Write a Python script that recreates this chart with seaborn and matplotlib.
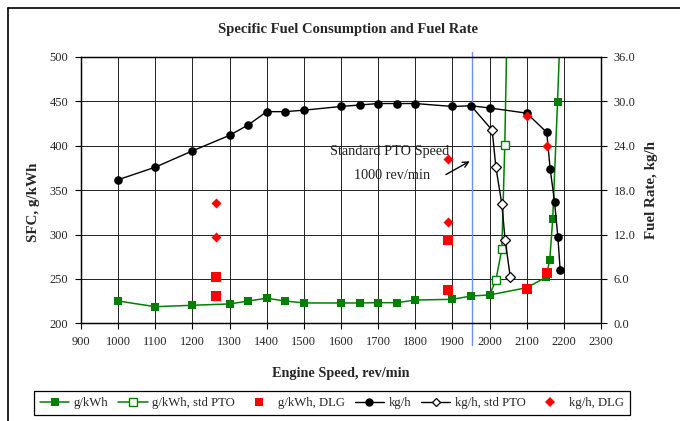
import numpy as np
import pandas as pd
import matplotlib
matplotlib.use("Agg")
import matplotlib.pyplot as plt
from matplotlib.lines import Line2D
import seaborn as sns

# ---------------- data ----------------
speed_main = [1000, 1100, 1200, 1300, 1350, 1400, 1450, 1500, 1600, 1650, 1700, 1750, 1800,
              1900, 1950, 2000, 2100, 2152, 2162, 2170, 2183, 2190]
sfc_main = [225.1, 218.7, 220.3, 221.8, 225.1, 228.2, 225.1, 222.9, 222.9, 222.9, 223.2, 223.2,
            226.2, 227.0, 230.7, 231.9, 240.1, 251.8, 271.3, 317.1, 449.2, 530.0]

speed_sfc_pto = [2000, 2017, 2033, 2041, 2056]
sfc_pto = [231.9, 248.8, 283.3, 401.1, 731.0]

speed_rate_main = [1000, 1100, 1200, 1300, 1350, 1400, 1450, 1500, 1600, 1650, 1700, 1750, 1800,
                   1900, 1950, 2000, 2100, 2154, 2163, 2175, 2184, 2190]
rate_main = [19.4, 21.1, 23.3, 25.4, 26.8, 28.6, 28.6, 28.8, 29.3, 29.5, 29.7, 29.7, 29.7,
             29.3, 29.4, 29.1, 28.4, 25.8, 20.9, 16.4, 11.6, 7.2]

speed_rate_pto = [1950, 2007, 2017, 2033, 2042, 2056]
rate_pto = [29.4, 26.1, 21.1, 16.1, 11.2, 6.2]

speed_dlg = [1263, 1263, 1888, 1888, 2100, 2155]
sfc_dlg = [251.8, 231.1, 293.8, 237.5, 238.3, 256.3]
rate_dlg = [16.2, 11.7, 22.2, 13.7, 28.0, 23.9]

std_pto_speed = 1953

x_ticks = list(range(900, 2301, 100))
sfc_ticks = list(range(200, 501, 50))
rate_ticks = [0, 6, 12, 18, 24, 30, 36]

title = "Specific Fuel Consumption and Fuel Rate"
xlabel = "Engine Speed, rev/min"
ylabel_left = "SFC, g/kWh"
ylabel_right = "Fuel Rate, kg/h"
legend_labels = ["g/kWh", "g/kWh, std PTO", "g/kWh, DLG", "kg/h", "kg/h, std PTO", "kg/h, DLG"]

# ---------------- style ----------------
sns.set_theme(style="white")
plt.rcParams['font.family'] = ['Liberation Serif', 'DejaVu Serif']

GREEN = '#008000'
RED = '#ff0000'
BLUE = '#6f8fe8'

fig = plt.figure(figsize=(6.8, 4.21), dpi=100)
ax = fig.add_axes([81/680, 1-323.3/421, (601-81)/680, (323.3-56.9)/421])
ax2 = ax.twinx()

ax.set_xlim(900, 2300)
ax.set_ylim(200, 500)
ax.set_xticks(x_ticks)
ax.set_yticks(sfc_ticks)
ax.grid(True, color='#222222', lw=0.7)
ax.set_axisbelow(True)
ax2.set_ylim(0, 36)
ax2.set_yticks(rate_ticks)
ax2.set_yticklabels([f"{v:.1f}" for v in rate_ticks])
ax2.grid(False)

for a in (ax, ax2):
    for s in a.spines.values():
        s.set_color('black')
        s.set_linewidth(0.9)
ax.tick_params(axis='both', which='major', direction='out', length=4, width=0.8,
               color='black', labelsize=8.9, pad=5, bottom=True, left=True)
ax2.tick_params(axis='y', direction='out', length=4, width=0.8, color='black',
                labelsize=8.9, pad=5, right=True)

# SFC series (std PTO branch first so shared points show the filled marker)
df_pto = pd.DataFrame({'speed': speed_sfc_pto, 'sfc': sfc_pto})
sns.lineplot(data=df_pto, x='speed', y='sfc', ax=ax, color=GREEN, lw=1.1, marker='s',
             markersize=6.2, markerfacecolor='white', markeredgecolor=GREEN, markeredgewidth=1.0,
             markevery=list(range(1, len(speed_sfc_pto))),
             estimator=None, sort=False, legend=False)
df_main = pd.DataFrame({'speed': speed_main, 'sfc': sfc_main})
sns.lineplot(data=df_main, x='speed', y='sfc', ax=ax, color=GREEN, lw=1.1, marker='s',
             markersize=6.2, markeredgewidth=0, estimator=None, sort=False, legend=False)
sns.scatterplot(x=speed_dlg, y=sfc_dlg, ax=ax, color=RED, marker='s', s=48, linewidth=0,
                zorder=5, legend=False)

# Fuel rate series
df_rp = pd.DataFrame({'speed': speed_rate_pto, 'rate': rate_pto})
sns.lineplot(data=df_rp, x='speed', y='rate', ax=ax2, color='black', lw=1.0, marker='D',
             markersize=4.6, markerfacecolor='white', markeredgecolor='black', markeredgewidth=0.9,
             markevery=list(range(1, len(speed_rate_pto))),
             estimator=None, sort=False, legend=False)
df_rm = pd.DataFrame({'speed': speed_rate_main, 'rate': rate_main})
sns.lineplot(data=df_rm, x='speed', y='rate', ax=ax2, color='black', lw=1.0, marker='o',
             markersize=6.2, markeredgewidth=0, estimator=None, sort=False, legend=False)
sns.scatterplot(x=speed_dlg, y=rate_dlg, ax=ax2, color=RED, marker='D', s=26, linewidth=0,
                zorder=5, legend=False)

ax.set_xlim(900, 2300)
ax.set_ylim(200, 500)
ax2.set_ylim(0, 36)
ax.set_xlabel("")
ax.set_ylabel("")
ax2.set_ylabel("")

# std PTO vertical line
ax.axvline(std_pto_speed, ymin=-0.083, ymax=1.018, clip_on=False, color=BLUE, lw=1.0, zorder=1.5)

# annotation
ax.text(1730, 393, "Standard PTO Speed", ha='center', va='center', fontsize=10.3, color='#222222')
ax.text(1738, 367, "1000 rev/min", ha='center', va='center', fontsize=10.3, color='#222222')
ax.annotate("", xy=(1953, 384), xytext=(1876, 366),
            arrowprops=dict(arrowstyle='->', color='black', lw=1.0, mutation_scale=10))

# labels
fig.text(348/680, 1-30/421, title, ha='center', va='center', fontsize=10.5, fontweight='bold')
fig.text(341/680, 1-373/421, xlabel, ha='center', va='center', fontsize=10.3, fontweight='bold')
fig.text(34/680, 1-202/421, ylabel_left, ha='center', va='center', fontsize=10.8,
         fontweight='bold', rotation=90)
fig.text(652/680, 1-190/421, ylabel_right, ha='center', va='center', fontsize=10.8,
         fontweight='bold', rotation=90)

# legend
handles = [
    Line2D([], [], color=GREEN, lw=1.1, marker='s', markersize=6, markeredgewidth=0),
    Line2D([], [], color=GREEN, lw=1.1, marker='s', markersize=5.5, markerfacecolor='white',
           markeredgecolor=GREEN, markeredgewidth=1.0),
    Line2D([], [], color=RED, lw=0, marker='s', markersize=6, markeredgewidth=0),
    Line2D([], [], color='black', lw=1.0, marker='o', markersize=6, markeredgewidth=0),
    Line2D([], [], color='black', lw=1.0, marker='D', markersize=4.2, markerfacecolor='white',
           markeredgecolor='black', markeredgewidth=0.9),
    Line2D([], [], color=RED, lw=0, marker='D', markersize=4.8, markeredgewidth=0),
]
leg = fig.legend(handles, legend_labels, loc='center', bbox_to_anchor=(332/680, 1-403/421),
                 ncol=6, frameon=True, fancybox=False, edgecolor='black', framealpha=1,
                 fontsize=9.2, handlelength=2.3, handletextpad=0.35, columnspacing=0.75,
                 borderpad=0.45, borderaxespad=0)
leg.get_frame().set_linewidth(0.9)

# outer chart border (top and left visible)
fig.add_artist(Line2D([8/680, 1.0], [1-8/421, 1-8/421], transform=fig.transFigure,
                      color='black', lw=1.2))
fig.add_artist(Line2D([8/680, 8/680], [0, 1-8/421], transform=fig.transFigure,
                      color='black', lw=1.2))

fig.savefig("out.png", dpi=100, facecolor='white')
